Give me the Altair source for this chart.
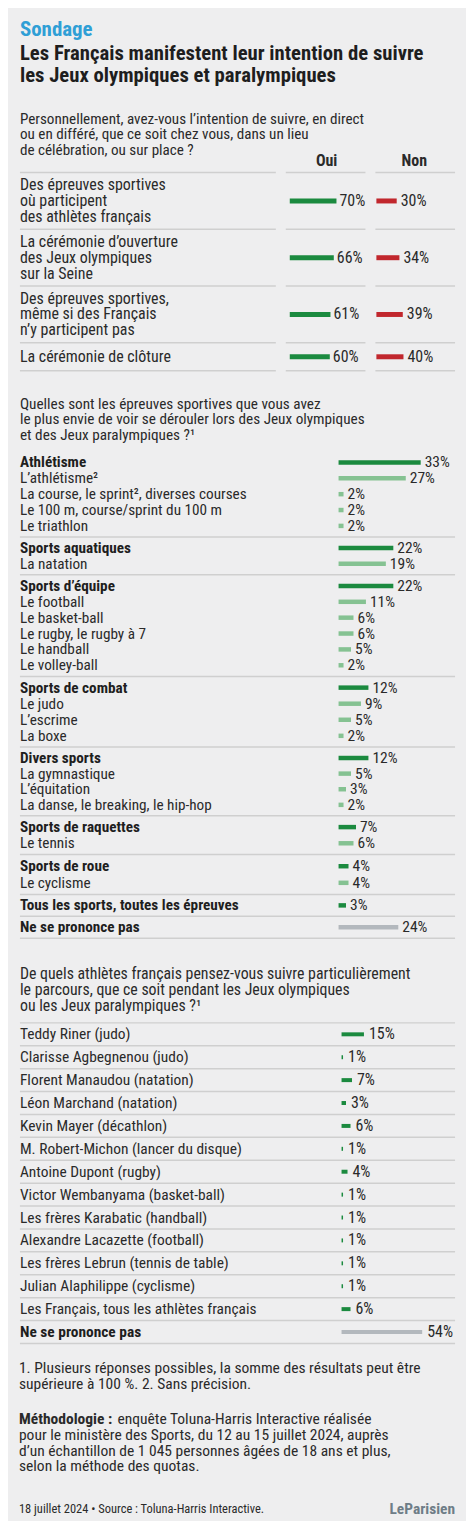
import altair as alt
import pandas as pd

FONT = "Roboto Condensed"
BG = "#eeeeef"
TXT = "#2a2a2a"
DARK = "#1e1e1e"
SEP = "#cfcfcf"
GREEN = "#1b8a3f"
LGREEN = "#85c292"
GREY = "#b3b8bd"
RED = "#c1272d"
BLUE = "#2f9fd6"
LOGO = "#6e7d87"
W = 437

# ---------------- texts ----------------
kicker = "Sondage"
title = "Les Français manifestent leur intention de suivre\nles Jeux olympiques et paralympiques"
q1_question = ("Personnellement, avez-vous l’intention de suivre, en direct\n"
               "ou en différé, que ce soit chez vous, dans un lieu\n"
               "de célébration, ou sur place ?")
q2_question = ("Quelles sont les épreuves sportives que vous avez\n"
               "le plus envie de voir se dérouler lors des Jeux olympiques\n"
               "et des Jeux paralympiques ?¹")
q3_question = ("De quels athlètes français pensez-vous suivre particulièrement\n"
               "le parcours, que ce soit pendant les Jeux olympiques\n"
               "ou les Jeux paralympiques ?¹")
notes = ("1. Plusieurs réponses possibles, la somme des résultats peut être\n"
         "supérieure à 100 %. 2. Sans précision.")
method_head = "Méthodologie :"
method_first = "enquête Toluna-Harris Interactive réalisée"
method_rest = ("pour le ministère des Sports, du 12 au 15 juillet 2024, auprès\n"
               "d’un échantillon de 1 045 personnes âgées de 18 ans et plus,\n"
               "selon la méthode des quotas.")
source = "18 juillet 2024 • Source : Toluna-Harris Interactive."
logo = "LeParisien"

# ---------------- data ----------------
q1_labels = ["Des épreuves sportives\noù participent\ndes athlètes français",
             "La cérémonie d’ouverture\ndes Jeux olympiques\nsur la Seine",
             "Des épreuves sportives,\nmême si des Français\nn’y participent pas",
             "La cérémonie de clôture"]
q1_oui = [70, 66, 61, 60]
q1_non = [30, 34, 39, 40]

q2_labels = ["Athlétisme", "L’athlétisme²", "La course, le sprint², diverses courses",
             "Le 100 m, course/sprint du 100 m", "Le triathlon",
             "Sports aquatiques", "La natation",
             "Sports d’équipe", "Le football", "Le basket-ball", "Le rugby, le rugby à 7",
             "Le handball", "Le volley-ball",
             "Sports de combat", "Le judo", "L’escrime", "La boxe",
             "Divers sports", "La gymnastique", "L’équitation", "La danse, le breaking, le hip-hop",
             "Sports de raquettes", "Le tennis",
             "Sports de roue", "Le cyclisme",
             "Tous les sports, toutes les épreuves",
             "Ne se prononce pas"]
q2_values = [33, 27, 2, 2, 2,
             22, 19,
             22, 11, 6, 6, 5, 2,
             12, 9, 5, 2,
             12, 5, 3, 2,
             7, 6,
             4, 4,
             3,
             24]
q2_groups = [0, 0, 0, 0, 0, 1, 1, 2, 2, 2, 2, 2, 2, 3, 3, 3, 3, 4, 4, 4, 4, 5, 5, 6, 6, 7, 8]
q2_kinds = ["head", "sub", "sub", "sub", "sub", "head", "sub",
            "head", "sub", "sub", "sub", "sub", "sub",
            "head", "sub", "sub", "sub", "head", "sub", "sub", "sub",
            "head", "sub", "head", "sub", "head", "nsp"]

q3_labels = ["Teddy Riner (judo)", "Clarisse Agbegnenou (judo)", "Florent Manaudou (natation)",
             "Léon Marchand (natation)", "Kevin Mayer (décathlon)",
             "M. Robert-Michon (lancer du disque)", "Antoine Dupont (rugby)",
             "Victor Wembanyama (basket-ball)", "Les frères Karabatic (handball)",
             "Alexandre Lacazette (football)", "Les frères Lebrun (tennis de table)",
             "Julian Alaphilippe (cyclisme)", "Les Français, tous les athlètes français",
             "Ne se prononce pas"]
q3_values = [15, 1, 7, 3, 6, 1, 4, 1, 1, 1, 1, 1, 6, 54]
q3_kinds = ["ath"] * 13 + ["nsp"]


# ---------------- helpers ----------------
def tblock(text, x, y, size=16, weight="normal", color=TXT, align="left", lh=15.5):
    return alt.Chart(pd.DataFrame({"t": [text]})).mark_text(
        align=align, baseline="alphabetic", font=FONT, fontSize=size, fontWeight=weight,
        color=color, lineBreak="\n", lineHeight=lh
    ).encode(x=alt.value(x), y=alt.value(y), text="t:N")


def hrule(x1, x2, y):
    return alt.Chart(pd.DataFrame({"t": [0]})).mark_rule(color=SEP, strokeWidth=1.5).encode(
        x=alt.value(x1), x2=alt.value(x2), y=alt.value(y))


charts = []

# ---------------- header ----------------
header = alt.layer(
    tblock(kicker, 0, 25, size=21, weight="bold", color=BLUE),
    tblock(title, 0, 49, size=20.8, weight="bold", color=DARK, lh=22),
    tblock(q1_question, 0, 113.5, size=15.2, lh=15.2),
    tblock("Oui", 308, 155, weight="bold", align="center"),
    tblock("Non", 396, 155, weight="bold", align="center"),
    hrule(0, 257, 162), hrule(267, 347, 162), hrule(357, 437, 162),
).properties(width=W, height=162)
charts.append(header)

# ---------------- section 1 rows ----------------
row_h = [57, 57, 57, 28]
for i, h in enumerate(row_h):
    df = pd.DataFrame({"label": [q1_labels[i]], "oui": [q1_oui[i]], "non": [q1_non[i]]})
    nlines = q1_labels[i].count("\n")
    base = alt.Chart(df).transform_calculate(
        lo="datum.oui + '%'", ln="datum.non + '%'"
    ).encode(y=alt.Y("label:N", axis=None))
    xo = alt.X("oui:Q", axis=None, scale=alt.Scale(domain=[0, 100], range=[271, 338]))
    xn = alt.X("non:Q", axis=None, scale=alt.Scale(domain=[0, 100], range=[358, 426]))
    txtkw = dict(baseline="middle", fontSize=16, color=TXT, font=FONT)
    lab = base.mark_text(align="left", lineBreak="\n", lineHeight=16, dy=-8 * nlines,
                         **txtkw).encode(x=alt.value(0), text="label:N")
    bo = base.mark_bar(size=5, color=GREEN).encode(x=xo)
    to = base.mark_text(align="left", dx=3, **txtkw).encode(x=xo, text="lo:N")
    bn = base.mark_bar(size=5, color=RED).encode(x=xn)
    tn = base.mark_text(align="left", dx=4, **txtkw).encode(x=xn, text="ln:N")
    row = alt.layer(lab, bo, to, bn, tn,
                    hrule(0, 257, h), hrule(267, 347, h), hrule(357, 437, h)
                    ).resolve_scale(x="independent").properties(width=W, height=h)
    charts.append(row)

# ---------------- section 2 ----------------
charts.append(alt.layer(tblock(q2_question, 0, 38.5, size=15.3, lh=15.4)).properties(width=W, height=81))

q2 = pd.DataFrame({"i": range(len(q2_labels)), "label": q2_labels, "value": q2_values,
                   "grp": q2_groups, "kind": q2_kinds})
grp_h = [86, 38, 102, 71, 69, 39, 40, 22, 22]
for g, h in enumerate(grp_h):
    d = q2[q2.grp == g]
    base = alt.Chart(d).transform_calculate(
        v="datum.value + '%'",
        tb="datum.kind != 'sub' ? datum.label : ''",
        tr="datum.kind == 'sub' ? datum.label : ''",
    ).encode(y=alt.Y("i:O", axis=None, scale=alt.Scale(paddingInner=0, paddingOuter=0.2)))
    x = alt.X("value:Q", axis=None, scale=alt.Scale(domain=[0, 100], range=[320, 570]))
    lkw = dict(baseline="middle", fontSize=15.3, font=FONT)
    lb = base.mark_text(align="left", fontWeight="bold", color=DARK, **lkw).encode(
        x=alt.value(0), text="tb:N")
    lr = base.mark_text(align="left", color=TXT, **lkw).encode(x=alt.value(0), text="tr:N")
    bars = base.mark_bar(size=4.5).encode(
        x=x, color=alt.Color("kind:N", legend=None,
                             scale=alt.Scale(domain=["head", "sub", "nsp"], range=[GREEN, LGREEN, GREY])))
    vals = base.mark_text(align="left", dx=4, color=TXT, baseline="middle", fontSize=15.6,
                          font=FONT).encode(x=x, text="v:N")
    charts.append(alt.layer(lb, lr, bars, vals, hrule(0, W, h)).properties(width=W, height=h))

# ---------------- section 3 ----------------
charts.append(alt.layer(tblock(q3_question, 0, 41, size=15.9, lh=15.9)).properties(width=W, height=85))

q3 = pd.DataFrame({"i": range(len(q3_labels)), "label": q3_labels, "value": q3_values, "kind": q3_kinds})
base = alt.Chart(q3).transform_calculate(
    v="datum.value + '%'",
    tb="datum.kind == 'nsp' ? datum.label : ''",
    tr="datum.kind != 'nsp' ? datum.label : ''",
).encode(y=alt.Y("i:O", axis=None, scale=alt.Scale(paddingInner=0, paddingOuter=0)))
x = alt.X("value:Q", axis=None, scale=alt.Scale(domain=[0, 100], range=[323, 473]))
lkw = dict(baseline="middle", fontSize=15.5, font=FONT)
sep3 = base.mark_rule(color=SEP, strokeWidth=1.5).encode(
    y=alt.Y("i:O", axis=None, bandPosition=1), x=alt.value(0), x2=alt.value(W))
lb = base.mark_text(align="left", fontWeight="bold", color=DARK, **lkw).encode(x=alt.value(0), text="tb:N")
lr = base.mark_text(align="left", color=TXT, **lkw).encode(x=alt.value(0), text="tr:N")
bars = base.mark_bar(size=4).encode(
    x=x, color=alt.Color("kind:N", legend=None,
                         scale=alt.Scale(domain=["ath", "nsp"], range=[GREEN, GREY])))
vals = base.mark_text(align="left", dx=5, color=TXT, baseline="middle", fontSize=16,
                      font=FONT).encode(x=x, text="v:N")
charts.append(alt.layer(hrule(0, W, 0), sep3, lb, lr, bars, vals).properties(width=W, height=322))

# ---------------- footer ----------------
footer = alt.layer(
    tblock(notes, -1, 30, size=15.6, lh=15.6),
    tblock(method_head, -1, 81, size=15.6, weight="bold"),
    tblock(method_first, 98, 81, size=15.6),
    tblock(method_rest, -1, 97, size=15.6, lh=15.7),
    tblock(source, -1, 170, size=12.5),
    tblock(logo, W, 171, size=15.5, weight="bold", color=LOGO, align="right"),
).properties(width=W, height=172)
charts.append(footer)

chart = alt.vconcat(*charts, spacing=0, bounds="flush").properties(
    background=BG,
    padding={"left": 11, "top": 0, "right": 10, "bottom": 0},
).configure_view(stroke=None)

chart.save("out.html", embed_options={"renderer": "svg", "actions": False})
